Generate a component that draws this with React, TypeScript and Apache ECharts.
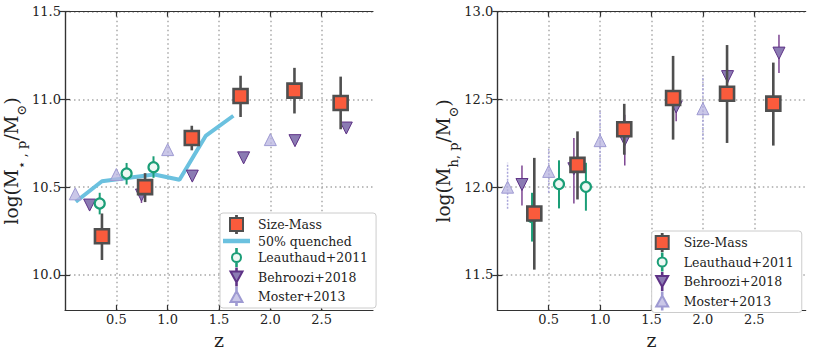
import React, { useEffect, useRef } from "react";
import * as echarts from "echarts";

// ---------- data ----------
const sizeMassZ = [0.36, 0.78, 1.235, 1.71, 2.235, 2.685];
const smStellar = [10.22, 10.5, 10.78, 11.02, 11.05, 10.98];
const smStellarLo = [10.085, 10.415, 10.71, 10.9, 10.92, 10.83];
const smStellarHi = [10.35, 10.58, 10.85, 11.135, 11.18, 11.13];
const smHalo = [11.85, 12.127, 12.33, 12.508, 12.532, 12.476];
const smHaloLo = [11.53, 11.93, 12.185, 12.271, 12.252, 12.237];
const smHaloHi = [12.167, 12.318, 12.475, 12.748, 12.81, 12.71];

const quenchedZ = [0.105, 0.36, 0.87, 1.115, 1.37, 1.64];
const quenchedM = [10.417, 10.534, 10.572, 10.542, 10.792, 10.907];

const leauthaudZ = [0.338, 0.6, 0.862];
const leauStellar = [10.407, 10.578, 10.614];
const leauStellarLo = [10.345, 10.515, 10.553];
const leauStellarHi = [10.468, 10.638, 10.676];
const leauHalo = [11.83, 12.018, 12.002];
const leauHaloLo = [11.69, 11.879, 11.866];
const leauHaloHi = [11.968, 12.153, 12.139];

const behrooziZ = [0.24, 0.745, 1.24, 1.74, 2.24, 2.74];
const behStellar = [10.398, 10.455, 10.563, 10.667, 10.765, 10.837];
const behStellarLo = [10.37, 10.41, 10.535, 10.64, 10.74, 10.81];
const behStellarHi = [10.42, 10.48, 10.585, 10.69, 10.79, 10.86];
const behHalo = [12.015, 12.105, 12.27, 12.457, 12.63, 12.764];
const behHaloLo = [11.896, 11.907, 12.123, 12.375, 12.593, 12.65];
const behHaloHi = [12.123, 12.28, 12.413, 12.54, 12.669, 12.868];

const mosterZ = [0.1, 0.5, 1.0, 2.0];
const mosStellar = [10.462, 10.572, 10.714, 10.771];
const mosHalo = [12.0, 12.09, 12.265, 12.447];
const mosHaloLo = [11.877, 11.968, 12.097, 12.271];
const mosHaloHi = [12.139, 12.224, 12.44, 12.635];

const xTicks = [0.5, 1.0, 1.5, 2.0, 2.5];
const yTicksStellar = [10.0, 10.5, 11.0, 11.5];
const yTicksHalo = [11.5, 12.0, 12.5, 13.0];

const legendLeft = ["Size-Mass", "50% quenched", "Leauthaud+2011", "Behroozi+2018", "Moster+2013"];
const legendRight = ["Size-Mass", "Leauthaud+2011", "Behroozi+2018", "Moster+2013"];

// ---------- styles ----------
const FONT = "DejaVu Serif";
const C_SQ_FILL = "#fa5b3c";
const C_SQ_EDGE = "#4f4f4f";
const C_LINE = "#6bc1df";
const C_GREEN = "#1b9e77";
const C_BEH_FILL = "#8b7bb3";
const C_BEH_EDGE = "#5e3286";
const C_BEH_ERR = "#7d4592";
const C_MOS_FILL = "rgba(184,180,224,0.75)";
const C_MOS_EDGE = "#9e9ad2";
const C_MOS_ERR = "#aaa6da";

const zip = (xs: number[], ys: number[]) => xs.map((x, i) => [x, ys[i]]);
const zip3 = (xs: number[], lo: number[], hi: number[]) =>
  xs.map((x, i) => [x, lo[i], hi[i]]);

function errSeries(
  name: string,
  axis: number,
  data: number[][],
  color: string,
  width: number,
  z: number,
  dash?: number[]
) {
  return {
    type: "custom",
    name: name + " error",
    xAxisIndex: axis,
    yAxisIndex: axis,
    z,
    silent: true,
    encode: { x: 0, y: [1, 2] },
    data,
    renderItem: (params: any, api: any) => {
      const p1 = api.coord([api.value(0), api.value(1)]);
      const p2 = api.coord([api.value(0), api.value(2)]);
      return {
        type: "line",
        shape: { x1: p1[0], y1: p1[1], x2: p2[0], y2: p2[1] },
        style: { stroke: color, lineWidth: width, lineDash: dash || null },
      };
    },
  };
}

// legend icons (marker with error-bar stem above and below)
const ICON_SQUARE =
  "path://M0,2 L13,2 L13,15 L0,15 Z M6.1,0 L6.9,0 L6.9,2 L6.1,2 Z M6.1,15 L6.9,15 L6.9,17 L6.1,17 Z";
const ICON_CIRCLE =
  "path://M1.5,8.5 A4.5,4.5 0 1 1 10.5,8.5 A4.5,4.5 0 1 1 1.5,8.5 Z M5.7,0 L6.3,0 L6.3,4 L5.7,4 Z M5.7,13 L6.3,13 L6.3,17 L5.7,17 Z";
const ICON_DOWN =
  "path://M0,3 L12,3 L6,14 Z M5.7,0 L6.3,0 L6.3,3 L5.7,3 Z M5.7,14 L6.3,14 L6.3,17 L5.7,17 Z";
const ICON_UP =
  "path://M6,3 L12,14 L0,14 Z M5.7,0 L6.3,0 L6.3,3 L5.7,3 Z M5.7,14 L6.3,14 L6.3,17 L5.7,17 Z";
const ICON_LINE = "path://M0,0 L27,0 L27,4.5 L0,4.5 Z";

function makeOption() {
  const axisLine = { show: true, lineStyle: { color: "#333", width: 1.2 } };
  const tick = (vals: number[]) => ({
    show: true,
    inside: true,
    length: 5,
    customValues: vals,
    lineStyle: { color: "#333", width: 1.2 },
  });
  const split = {
    show: true,
    lineStyle: { color: "#a8a8a8", width: 1.5, type: [1.5, 3] as any },
  };
  const labelStyle = { fontFamily: FONT, fontSize: 13, color: "#222" };

  const xAxes: any[] = [];
  const yAxes: any[] = [];
  [0, 1].forEach((g) => {
    xAxes.push({
      type: "value",
      gridIndex: g,
      min: 0,
      max: 3,
      position: "bottom",
      axisLine,
      axisTick: tick(xTicks),
      axisLabel: {
        ...labelStyle,
        margin: 3,
        customValues: xTicks,
        formatter: (v: number) => v.toFixed(1),
      },
      splitLine: split,
      name: "z",
      nameLocation: "middle",
      nameGap: 19,
      nameTextStyle: { fontFamily: FONT, fontSize: 19, color: "#222" },
    });
    xAxes.push({
      type: "value",
      gridIndex: g,
      min: 0,
      max: 3,
      position: "top",
      axisLine,
      axisTick: tick(xTicks),
      axisLabel: { show: false },
      splitLine: { show: false },
    });
    const yt = g === 0 ? yTicksStellar : yTicksHalo;
    const nameStr =
      g === 0
        ? "{a|log(M}{s|⋆ , p}{a|/M}{s|⊙}{a|)}"
        : "{a|log(M}{s|h, p}{a|/M}{s|⊙}{a|)}";
    yAxes.push({
      type: "value",
      gridIndex: g,
      min: g === 0 ? 9.8 : 11.3,
      max: g === 0 ? 11.5 : 13.0,
      position: "left",
      axisLine,
      axisTick: tick(yt),
      axisLabel: {
        ...labelStyle,
        margin: 4,
        customValues: yt,
        formatter: (v: number) => v.toFixed(1),
      },
      splitLine: split,
      name: nameStr,
      nameLocation: "middle",
      nameRotate: 90,
      nameGap: 36,
      nameTextStyle: {
        rich: {
          a: { fontFamily: FONT, fontSize: 18.5, color: "#222", lineHeight: 24, verticalAlign: "middle" },
          s: { fontFamily: FONT, fontSize: 13, color: "#222", lineHeight: 33, verticalAlign: "bottom" },
        },
      },
    });
    yAxes.push({
      type: "value",
      gridIndex: g,
      min: g === 0 ? 9.8 : 11.3,
      max: g === 0 ? 11.5 : 13.0,
      position: "right",
      axisLine,
      axisTick: tick(yt),
      axisLabel: { show: false },
      splitLine: { show: false },
    });
  });

  const sqStyle = { color: C_SQ_FILL, borderColor: C_SQ_EDGE, borderWidth: 2.6, opacity: 1 };
  const circStyle = { color: "#eef8f4", borderColor: C_GREEN, borderWidth: 2.2, opacity: 1 };
  const behStyle = { color: C_BEH_FILL, borderColor: C_BEH_EDGE, borderWidth: 1, opacity: 1 };
  const mosStyle = { color: C_MOS_FILL, borderColor: C_MOS_EDGE, borderWidth: 1, opacity: 1 };

  const scatter = (
    name: string,
    axis: number,
    data: number[][],
    symbol: string,
    size: number,
    style: any,
    z: number,
    rotate = 0
  ) => ({
    type: "scatter",
    name,
    xAxisIndex: axis,
    yAxisIndex: axis,
    symbol,
    symbolSize: size,
    symbolRotate: rotate,
    symbolKeepAspect: true,
    itemStyle: style,
    z,
    data,
  });

  const series: any[] = [
    // left panel (axes index 0)
    {
      type: "line",
      name: "50% quenched",
      xAxisIndex: 0,
      yAxisIndex: 0,
      data: zip(quenchedZ, quenchedM),
      symbol: "none",
      showSymbol: false,
      lineStyle: { color: C_LINE, width: 4 },
      itemStyle: { color: C_LINE },
      z: 1,
    },
    scatter("Moster+2013", 0, zip(mosterZ, mosStellar), "triangle", 12, mosStyle, 3),
    errSeries("Behroozi+2018", 0, zip3(behrooziZ, behStellarLo, behStellarHi), C_BEH_ERR, 1.5, 4),
    scatter("Behroozi+2018", 0, zip(behrooziZ, behStellar), "triangle", 12, behStyle, 5, 180),
    errSeries("Leauthaud+2011", 0, zip3(leauthaudZ, leauStellarLo, leauStellarHi), C_GREEN, 2, 6),
    scatter("Leauthaud+2011", 0, zip(leauthaudZ, leauStellar), "circle", 10, circStyle, 7),
    errSeries("Size-Mass", 0, zip3(sizeMassZ, smStellarLo, smStellarHi), C_SQ_EDGE, 2.6, 8),
    scatter("Size-Mass", 0, zip(sizeMassZ, smStellar), "rect", 14, sqStyle, 9),
    // right panel (axes index 2)
    errSeries("Moster+2013", 2, zip3(mosterZ, mosHaloLo, mosHaloHi), C_MOS_ERR, 1.5, 2, [2, 1.5]),
    scatter("Moster+2013", 2, zip(mosterZ, mosHalo), "triangle", 12, mosStyle, 3),
    errSeries("Behroozi+2018", 2, zip3(behrooziZ, behHaloLo, behHaloHi), C_BEH_ERR, 1.5, 4),
    scatter("Behroozi+2018", 2, zip(behrooziZ, behHalo), "triangle", 12, behStyle, 5, 180),
    errSeries("Leauthaud+2011", 2, zip3(leauthaudZ, leauHaloLo, leauHaloHi), C_GREEN, 2, 6),
    scatter("Leauthaud+2011", 2, zip(leauthaudZ, leauHalo), "circle", 10, circStyle, 7),
    errSeries("Size-Mass", 2, zip3(sizeMassZ, smHaloLo, smHaloHi), C_SQ_EDGE, 2.6, 8),
    scatter("Size-Mass", 2, zip(sizeMassZ, smHalo), "rect", 14, sqStyle, 9),
  ];

  const legendItem = (n: string) =>
    n === "50% quenched"
      ? { name: n, icon: ICON_LINE }
      : n === "Behroozi+2018"
      ? { name: n, icon: ICON_DOWN }
      : n === "Moster+2013"
      ? { name: n, icon: ICON_UP }
      : n === "Size-Mass"
      ? { name: n, icon: ICON_SQUARE }
      : { name: n, icon: ICON_CIRCLE };

  const legendBase = {
    orient: "vertical",
    backgroundColor: "#ffffff",
    borderColor: "#cccccc",
    borderWidth: 1,
    borderRadius: 3,
    padding: [2, 8, 2, 3],
    itemWidth: 27,
    itemHeight: 17,
    itemGap: 0.5,
    symbolKeepAspect: true,
    selectedMode: false,
    textStyle: { fontFamily: FONT, fontSize: 12.5, color: "#222", padding: [0, 0, 0, 3] },
    z: 20,
  };

  return {
    animation: false,
    backgroundColor: "#ffffff",
    grid: [
      { left: 65, top: 11.7, width: 308, height: 298.3 },
      { left: 497.3, top: 11.7, width: 308.4, height: 298.3 },
    ],
    xAxis: xAxes,
    yAxis: yAxes,
    legend: [
      { ...legendBase, left: 220, top: 213, data: legendLeft.map(legendItem) },
      { ...legendBase, left: 651.7, top: 231, data: legendRight.map(legendItem) },
    ],
    series,
  };
}

export default function App() {
  const ref = useRef<HTMLDivElement>(null);
  useEffect(() => {
    if (!ref.current) return;
    const chart = echarts.init(ref.current, null, { renderer: "svg" });
    chart.setOption(makeOption() as any);
    return () => chart.dispose();
  }, []);
  return (
    <div
      ref={ref}
      style={{ position: "absolute", left: 0, top: 0, width: 814, height: 355 }}
    />
  );
}
